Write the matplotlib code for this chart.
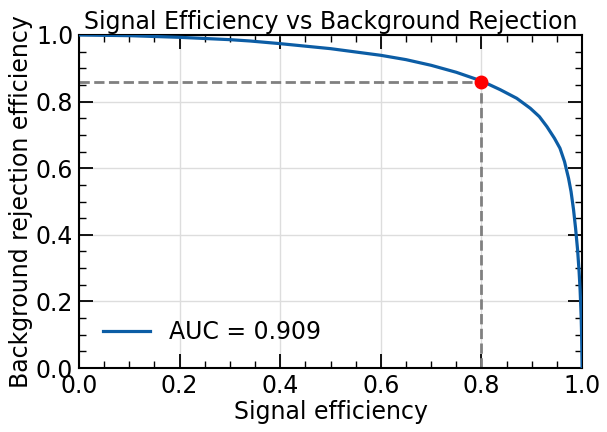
import matplotlib
matplotlib.use("Agg")
import matplotlib.pyplot as plt
from matplotlib.ticker import MultipleLocator

signal_eff = [0.0, 0.1, 0.2, 0.3, 0.34, 0.4, 0.5, 0.6, 0.65, 0.7, 0.75, 0.8, 0.837, 0.87, 0.897, 0.915, 0.93,
              0.945, 0.956, 0.965, 0.973, 0.978, 0.983, 0.987, 0.991, 0.994, 0.996, 0.998, 0.999, 1.0]
bkg_rej = [1.0, 0.998, 0.993, 0.986, 0.982, 0.974, 0.959, 0.939, 0.926, 0.909, 0.888, 0.862, 0.836, 0.81, 0.78, 0.755, 0.725,
           0.69, 0.66, 0.62, 0.57, 0.53, 0.475, 0.42, 0.355, 0.29, 0.235, 0.16, 0.10, 0.0]
wp_x = 0.8
wp_y = 0.86
auc = 0.909

plt.rcParams['font.family'] = ['DejaVu Sans']
fig = plt.figure(figsize=(6.07, 4.32), dpi=100)
ax = fig.add_axes([0.130, 0.148, 0.829, 0.771])

ax.plot(signal_eff, bkg_rej, color='#0C5DA5', lw=2.3, label=f'AUC = {auc:.3f}', zorder=3)
ax.plot([0, wp_x], [wp_y, wp_y], ls='--', color='gray', lw=2, zorder=2)
ax.plot([wp_x, wp_x], [0, wp_y], ls='--', color='gray', lw=2, zorder=2)
ax.plot([wp_x], [wp_y], 'o', color='red', ms=9, zorder=4)

ax.set_xlim(0, 1)
ax.set_ylim(0, 1)
ax.xaxis.set_major_locator(MultipleLocator(0.2))
ax.yaxis.set_major_locator(MultipleLocator(0.2))
ax.xaxis.set_minor_locator(MultipleLocator(0.05))
ax.yaxis.set_minor_locator(MultipleLocator(0.05))
ax.tick_params(which='both', direction='in', top=True, right=True, labelsize=17)
ax.tick_params(which='major', length=10, width=1.3, pad=4)
ax.tick_params(which='minor', length=5, width=1.0)
for s in ax.spines.values():
    s.set_linewidth(1.5)
ax.grid(True, which='major', color='#dddddd', lw=1)
ax.set_axisbelow(True)

ax.set_xlabel('Signal efficiency', fontsize=17, labelpad=2)
ax.set_ylabel('Background rejection efficiency', fontsize=17, labelpad=2)
ax.set_title('Signal Efficiency vs Background Rejection', fontsize=17, pad=4)
ax.legend(loc='lower left', frameon=False, fontsize=17, handlelength=2.0, borderaxespad=0.6)

fig.savefig('out.png', dpi=100)
